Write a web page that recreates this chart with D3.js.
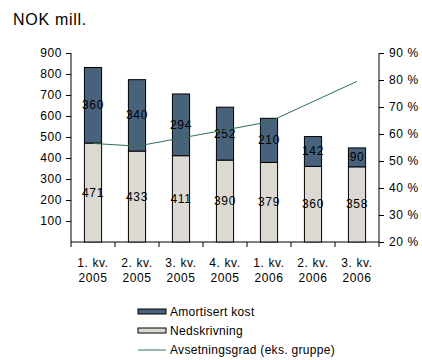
<!DOCTYPE html>
<html>
<head>
<meta charset="utf-8">
<script src="https://cdn.jsdelivr.net/npm/d3@7"></script>
<style>
body { margin: 0; background: #fff; }
text { font-family: "Liberation Sans", Arial, sans-serif; fill: #000; letter-spacing: 0.6px; }
</style>
</head>
<body>
<div id="chart"></div>
<script>
// data
var quarters = ['1. kv.|2005', '2. kv.|2005', '3. kv.|2005', '4. kv.|2005', '1. kv.|2006', '2. kv.|2006', '3. kv.|2006'];
var nedskrivning = [471, 433, 411, 390, 379, 360, 358];
var amortisert = [360, 340, 294, 252, 210, 142, 90];
var avsetningsgrad = [56.5, 55.5, 58.5, 61.5, 64.5, 72, 79.5];
var leftTicks = [100, 200, 300, 400, 500, 600, 700, 800, 900];
var rightTicks = [20, 30, 40, 50, 60, 70, 80, 90];

var W = 422, H = 360;
var plot = { left: 71, right: 379, top: 53, bottom: 242 };
var darkCol = '#48627c', lightCol = '#dcd9d2', lineCol = '#2f6e55';
var fs = '12px';

var svg = d3.select('#chart').append('svg')
    .attr('width', W)
    .attr('height', H);

svg.append('text')
    .attr('x', 13).attr('y', 25)
    .style('font-size', '16px').style('letter-spacing', '0.7px')
    .text('NOK mill.');

var x = d3.scaleBand().domain(quarters).range([plot.left, plot.right]).paddingInner(0.61).paddingOuter(0.305);
var xOuter = d3.scaleBand().domain(quarters).range([plot.left, plot.right]);
var y = d3.scaleLinear().domain([0, 900]).range([plot.bottom, plot.top]);
var y2 = d3.scaleLinear().domain([20, 90]).range([plot.bottom, plot.top]);

// left axis
var yAxis = d3.axisLeft(y).tickValues(leftTicks).tickSize(5).tickPadding(4);
var gy = svg.append('g').attr('transform', 'translate(' + plot.left + ',0)').call(yAxis);
gy.select('.domain').attr('d', 'M0,' + plot.top + 'V' + plot.bottom).attr('stroke', '#000');
gy.selectAll('text').style('font-size', fs).style('font-family', null);

// right axis
var y2Axis = d3.axisRight(y2).tickValues(rightTicks).tickSize(5).tickPadding(5)
    .tickFormat(function (d) { return d + ' %'; });
var gy2 = svg.append('g').attr('transform', 'translate(' + plot.right + ',0)').call(y2Axis);
gy2.select('.domain').attr('d', 'M0,' + plot.top + 'V' + plot.bottom).attr('stroke', '#000');
gy2.selectAll('text').style('font-size', fs);
gy.attr('font-family', null);
gy2.attr('font-family', null);

// bottom axis with category ticks between bars
var gx = svg.append('g').attr('transform', 'translate(0,' + plot.bottom + ')');
gx.append('line').attr('x1', plot.left).attr('x2', plot.right).attr('stroke', '#000');
gx.selectAll('.tk').data(quarters.concat(['end'])).enter().append('line')
    .attr('x1', function (d, i) { return plot.left + i * xOuter.step(); })
    .attr('x2', function (d, i) { return plot.left + i * xOuter.step(); })
    .attr('y1', 0).attr('y2', 5).attr('stroke', '#000');
var lbl = gx.selectAll('.lbl').data(quarters).enter().append('text')
    .attr('text-anchor', 'middle')
    .attr('transform', function (d) { return 'translate(' + (x(d) + x.bandwidth() / 2) + ',0)'; })
    .style('font-size', fs);
lbl.append('tspan').attr('x', 0).attr('y', 25).text(function (d) { return d.split('|')[0]; });
lbl.append('tspan').attr('x', 0).attr('y', 40).text(function (d) { return d.split('|')[1]; });

// stacked bars
var bars = svg.append('g');
quarters.forEach(function (q, i) {
    var n = nedskrivning[i], a = amortisert[i];
    bars.append('rect')
        .attr('x', x(q)).attr('width', x.bandwidth())
        .attr('y', y(n)).attr('height', y(0) - y(n))
        .attr('fill', lightCol).attr('stroke', '#000').attr('stroke-width', 1);
    bars.append('rect')
        .attr('x', x(q)).attr('width', x.bandwidth())
        .attr('y', y(n + a)).attr('height', y(n) - y(n + a))
        .attr('fill', darkCol).attr('stroke', '#000').attr('stroke-width', 1);
    bars.append('text')
        .attr('x', x(q) + x.bandwidth() / 2).attr('y', y(n / 2) + 4)
        .attr('text-anchor', 'middle').style('font-size', fs)
        .text(n);
    bars.append('text')
        .attr('x', x(q) + x.bandwidth() / 2).attr('y', y(n + a / 2) + 4)
        .attr('text-anchor', 'middle').style('font-size', fs)
        .text(a);
});

// line on right axis
var line = d3.line()
    .x(function (d, i) { return x(quarters[i]) + x.bandwidth() / 2; })
    .y(function (d) { return y2(d); });
svg.append('path').datum(avsetningsgrad)
    .attr('d', line)
    .attr('fill', 'none').attr('stroke', lineCol).attr('stroke-width', 1);

// legend
var legend = svg.append('g').attr('transform', 'translate(138,0)');
legend.append('rect').attr('x', 0).attr('y', 309).attr('width', 28).attr('height', 5)
    .attr('fill', darkCol).attr('stroke', '#000');
legend.append('text').attr('x', 32).attr('y', 316).style('font-size', fs).style('letter-spacing', '0.3px').text('Amortisert kost');
legend.append('rect').attr('x', 0).attr('y', 328).attr('width', 28).attr('height', 5)
    .attr('fill', lightCol).attr('stroke', '#000');
legend.append('text').attr('x', 32).attr('y', 335).style('font-size', fs).style('letter-spacing', '0.3px').text('Nedskrivning');
legend.append('line').attr('x1', 0).attr('x2', 28).attr('y1', 350).attr('y2', 350)
    .attr('stroke', lineCol);
legend.append('text').attr('x', 32).attr('y', 354).style('font-size', fs).style('letter-spacing', '0.3px').text('Avsetningsgrad (eks. gruppe)');
</script>
</body>
</html>
